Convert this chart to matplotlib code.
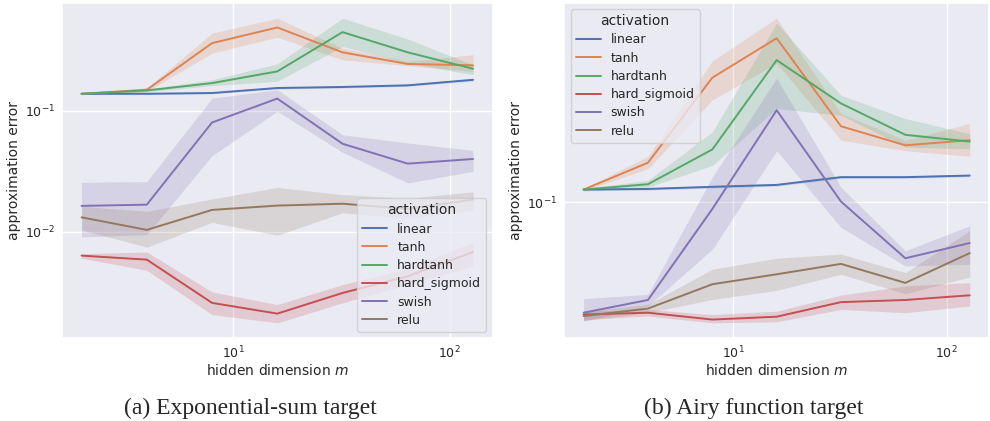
import matplotlib
matplotlib.use("Agg")
import matplotlib.pyplot as plt
import seaborn as sns

sns.set_theme(style="darkgrid")

# hidden widths that were swept
m_values = [2, 4, 8, 16, 32, 64, 128]
activations = ["linear", "tanh", "hardtanh", "hard_sigmoid", "swish", "relu"]

# (a) exponential-sum target: mean error and band (lower / upper)
exp_linear = [0.138, 0.138, 0.140, 0.154, 0.157, 0.162, 0.180]
exp_linear_lo = [0.136, 0.136, 0.138, 0.151, 0.154, 0.159, 0.176]
exp_linear_hi = [0.140, 0.140, 0.142, 0.157, 0.160, 0.165, 0.184]

exp_tanh = [0.138, 0.149, 0.361, 0.486, 0.303, 0.243, 0.237]
exp_tanh_lo = [0.136, 0.144, 0.299, 0.404, 0.263, 0.235, 0.211]
exp_tanh_hi = [0.140, 0.154, 0.437, 0.580, 0.328, 0.255, 0.290]

exp_hardtanh = [0.138, 0.147, 0.169, 0.211, 0.445, 0.303, 0.222]
exp_hardtanh_lo = [0.136, 0.143, 0.161, 0.175, 0.339, 0.247, 0.198]
exp_hardtanh_hi = [0.140, 0.151, 0.180, 0.244, 0.580, 0.390, 0.239]

exp_hsig = [0.00638, 0.00591, 0.00260, 0.00212, 0.00314, 0.00431, 0.00684]
exp_hsig_lo = [0.00607, 0.00483, 0.00208, 0.00178, 0.00260, 0.00370, 0.00521]
exp_hsig_hi = [0.00662, 0.00684, 0.00320, 0.00252, 0.00368, 0.00500, 0.00822]

exp_swish = [0.0164, 0.0168, 0.080, 0.126, 0.0534, 0.0366, 0.040]
exp_swish_lo = [0.0091, 0.0095, 0.0426, 0.099, 0.0454, 0.0254, 0.0316]
exp_swish_hi = [0.0257, 0.0260, 0.127, 0.149, 0.0634, 0.0542, 0.0471]

exp_relu = [0.0132, 0.0104, 0.0152, 0.0165, 0.0171, 0.0155, 0.0185]
exp_relu_lo = [0.0104, 0.0075, 0.0120, 0.0094, 0.0144, 0.0130, 0.0151]
exp_relu_hi = [0.0163, 0.0148, 0.0187, 0.0233, 0.0203, 0.0190, 0.0214]

# (b) Airy function target
airy_linear = [0.1133, 0.114, 0.1164, 0.1186, 0.128, 0.128, 0.130]
airy_linear_lo = [0.1120, 0.1127, 0.1150, 0.1172, 0.1265, 0.1265, 0.1285]
airy_linear_hi = [0.1146, 0.1153, 0.1178, 0.1200, 0.1295, 0.1295, 0.1315]

airy_tanh = [0.1133, 0.1475, 0.340, 0.501, 0.211, 0.175, 0.184]
airy_tanh_lo = [0.1120, 0.139, 0.273, 0.392, 0.184, 0.166, 0.157]
airy_tanh_hi = [0.1146, 0.157, 0.401, 0.610, 0.239, 0.184, 0.217]

airy_hardtanh = [0.1133, 0.1194, 0.168, 0.404, 0.264, 0.194, 0.1815]
airy_hardtanh_lo = [0.1120, 0.116, 0.1436, 0.251, 0.235, 0.172, 0.169]
airy_hardtanh_hi = [0.1146, 0.124, 0.1995, 0.581, 0.286, 0.2276, 0.196]

airy_hsig = [0.0332, 0.0338, 0.0316, 0.0325, 0.0375, 0.0383, 0.0401]
airy_hsig_lo = [0.0316, 0.0327, 0.0306, 0.0309, 0.0349, 0.0338, 0.0361]
airy_hsig_hi = [0.0343, 0.0349, 0.0332, 0.0343, 0.0402, 0.0440, 0.0454]

airy_swish = [0.0338, 0.0383, 0.0936, 0.247, 0.1007, 0.0577, 0.067]
airy_swish_lo = [0.0311, 0.0361, 0.063, 0.166, 0.0781, 0.0535, 0.0544]
airy_swish_hi = [0.0388, 0.0405, 0.128, 0.338, 0.116, 0.0621, 0.0794]

airy_relu = [0.0327, 0.0352, 0.0447, 0.0493, 0.0546, 0.0453, 0.0607]
airy_relu_lo = [0.0313, 0.0338, 0.0385, 0.0421, 0.0493, 0.0407, 0.048]
airy_relu_hi = [0.0343, 0.0367, 0.0518, 0.0577, 0.0601, 0.0501, 0.0756]

exp_runs = [
    (exp_linear, exp_linear_lo, exp_linear_hi),
    (exp_tanh, exp_tanh_lo, exp_tanh_hi),
    (exp_hardtanh, exp_hardtanh_lo, exp_hardtanh_hi),
    (exp_hsig, exp_hsig_lo, exp_hsig_hi),
    (exp_swish, exp_swish_lo, exp_swish_hi),
    (exp_relu, exp_relu_lo, exp_relu_hi),
]
airy_runs = [
    (airy_linear, airy_linear_lo, airy_linear_hi),
    (airy_tanh, airy_tanh_lo, airy_tanh_hi),
    (airy_hardtanh, airy_hardtanh_lo, airy_hardtanh_hi),
    (airy_hsig, airy_hsig_lo, airy_hsig_hi),
    (airy_swish, airy_swish_lo, airy_swish_hi),
    (airy_relu, airy_relu_lo, airy_relu_hi),
]

colors = sns.color_palette("deep", 6)

fig = plt.figure(figsize=(9.9, 4.21), dpi=100)
ax_a = fig.add_axes([0.0626, 0.197, 0.435, 0.796])
ax_b = fig.add_axes([0.570, 0.197, 0.429, 0.796])


def draw_panel(ax, runs, legend_loc):
    for name, (mean, lo, hi), c in zip(activations, runs, colors):
        ax.fill_between(m_values, lo, hi, color=c, alpha=0.2, linewidth=0)
        ax.plot(m_values, mean, color=c, lw=1.4, label=name)
    ax.set_xscale("log")
    ax.set_yscale("log")
    ax.set_xlabel("hidden dimension $m$", fontsize=10, labelpad=1)
    ax.set_ylabel("approximation error", fontsize=10, labelpad=3)
    ax.tick_params(which="both", length=0, labelsize=9, pad=5)
    ax.grid(True, which="major", color="white", lw=1.0)
    leg = ax.legend(title="activation", loc=legend_loc, fontsize=9,
                    title_fontsize=10, handlelength=2.0, borderpad=0.4,
                    labelspacing=0.42)
    return leg


draw_panel(ax_a, exp_runs, "lower right")
draw_panel(ax_b, airy_runs, "upper left")

fig.text(0.253, 0.03, "(a) Exponential-sum target", ha="center", va="center",
         fontsize=17, family="Liberation Serif")
fig.text(0.761, 0.03, "(b) Airy function target", ha="center", va="center",
         fontsize=17, family="Liberation Serif")

fig.savefig("out.png", dpi=100)
